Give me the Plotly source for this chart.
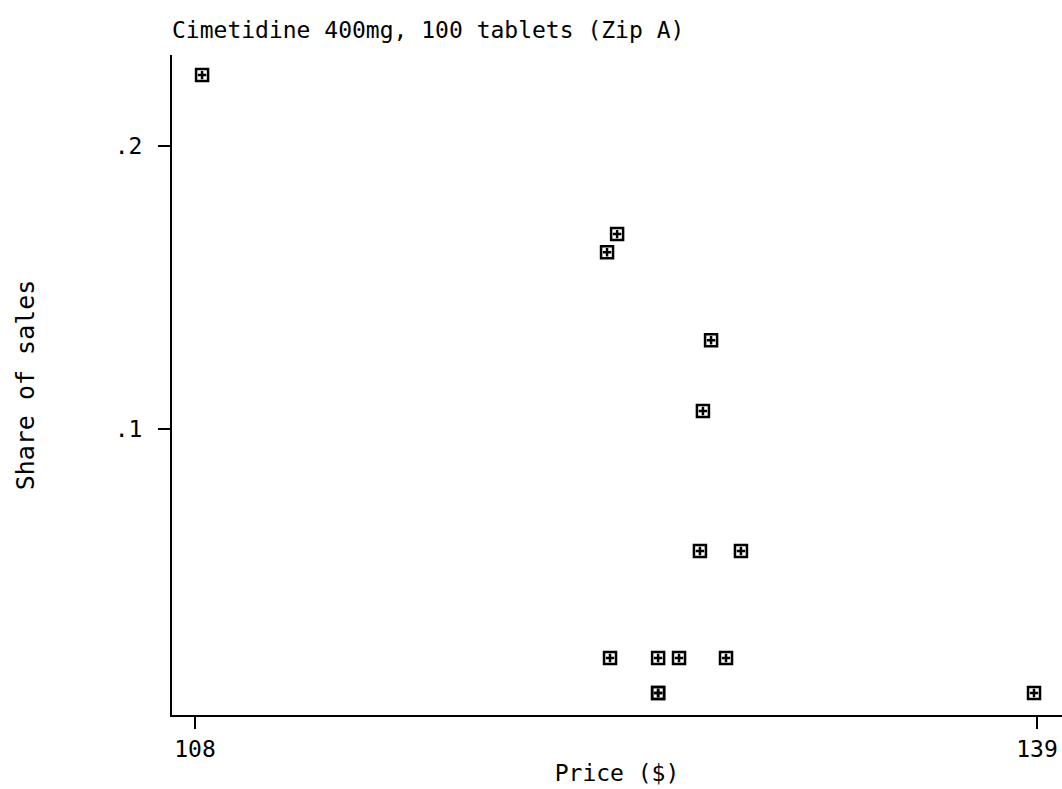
import plotly.graph_objects as go

price = [108.26, 123.54, 123.17, 127.00, 126.70, 126.59, 128.10,
         123.28, 125.05, 125.82, 127.55, 125.05, 125.05, 138.89]
share = [0.2251, 0.1689, 0.1625, 0.1314, 0.1064, 0.0569, 0.0569,
         0.0191, 0.0191, 0.0191, 0.0191, 0.0067, 0.0067, 0.0067]

x_ticks = [108, 139]
x_labels = ["108", "139"]
y_ticks = [0.1, 0.2]
y_labels = [".1", ".2"]

FONT = "DejaVu Sans Mono"
fig = go.Figure()
fig.add_trace(go.Scatter(
    x=price, y=share, mode="markers",
    marker=dict(symbol="square-open", size=12, color="black",
                line=dict(width=2.5, color="black")),
    hoverinfo="x+y", showlegend=False))
fig.add_trace(go.Scatter(
    x=price, y=share, mode="markers",
    marker=dict(symbol="cross-thin-open", size=6, color="black",
                line=dict(width=2.5, color="black")),
    hoverinfo="skip", showlegend=False))

fig.update_layout(
    width=1062, height=789,
    margin=dict(l=172, r=0, t=55, b=74),
    paper_bgcolor="white", plot_bgcolor="white",
    font=dict(family=FONT, size=23, color="black"),
    title=dict(text="Cimetidine 400mg, 100 tablets (Zip A)",
               x=0, xref="paper", xanchor="left",
               y=1 - 30 / 789, yref="container", yanchor="middle",
               font=dict(family=FONT, size=23, color="black")),
    xaxis=dict(range=[107.153, 139.92], tickvals=x_ticks, ticktext=x_labels,
               showgrid=False, zeroline=False, showline=True,
               linecolor="black", linewidth=2, ticks="outside",
               ticklen=12, tickwidth=2, tickcolor="black",
               tickfont=dict(family=FONT, size=23),
               title=dict(text="Price ($)", standoff=4,
                          font=dict(family=FONT, size=23))),
    yaxis=dict(range=[-0.00106, 0.2322], tickvals=y_ticks, ticktext=y_labels,
               showgrid=False, zeroline=False, showline=True,
               linecolor="black", linewidth=2, ticks="outside",
               ticklen=12, tickwidth=2, tickcolor="black",
               ticklabelstandoff=11,
               tickfont=dict(family=FONT, size=23),
               title=dict(text="Share of sales", standoff=73,
                          font=dict(family=FONT, size=25))),
)

fig.write_html("out.html", config={"displayModeBar": False},
               post_script="document.body.style.margin='0px';document.body.style.overflow='hidden';")
